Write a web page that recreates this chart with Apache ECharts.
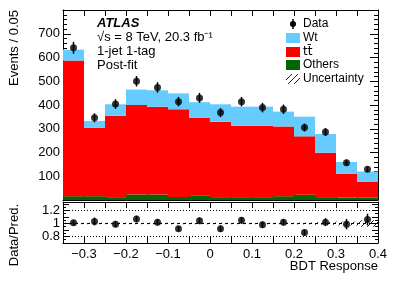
<!DOCTYPE html>
<html><head><meta charset="utf-8">
<script src="https://cdn.jsdelivr.net/npm/echarts@6/dist/echarts.min.js"></script>
<style>html,body{margin:0;padding:0;background:#fff}#c{width:399px;height:286px}</style>
</head><body><div id="c"></div>
<script>
// ---- data ----
const binEdges = [-0.35,-0.3,-0.25,-0.2,-0.15,-0.1,-0.05,0,0.05,0.1,0.15,0.2,0.25,0.3,0.35,0.4];
const others = [16,16,12,23,23,13,20,12,12,12,16,22,12,10,10];
const ttbar  = [571,288,343,377,370,369,326,318,300,300,294,246,187,101,66];
const wt     = [46,29,48,65,69,67,66,73,81,81,62,83,79,49,44];
const dataVals = [641,346,404,500,474,414,430,368,414,389,382,305,286,157,129];
const dataErr  = [25,19,20,22,22,20,21,19,20,20,20,17,17,13,11];
const ratioVals = [1.01,1.03,0.99,1.07,1.02,0.92,1.04,0.92,1.05,0.98,1.02,0.86,1.02,0.99,1.06];
const ratioErr  = [0.04,0.06,0.05,0.05,0.05,0.04,0.05,0.05,0.05,0.05,0.05,0.05,0.06,0.08,0.09];
const uncRel    = [0.012,0.012,0.012,0.012,0.012,0.012,0.012,0.012,0.012,0.012,0.012,0.015,0.02,0.03,0.05];
const xTickLabels = {'-30':'\u22120.3','-20':'\u22120.2','-10':'\u22120.1','0':'0','10':'0.1','20':'0.2','30':'0.3','40':'0.4'};
const yTickLabels = ['100','200','300','400','500','600','700'];
const ratioTickLabels = {'8':'0.8','10':'1','12':'1.2'};

// ---- colours ----
const cWt = '#66ccff', cTT = '#ff0000', cOth = '#006600';

// hatch pattern
const pc = document.createElement('canvas'); pc.width = 6; pc.height = 6;
const g = pc.getContext('2d'); g.strokeStyle = '#222'; g.lineWidth = 1;
g.beginPath(); g.moveTo(0,6); g.lineTo(6,0); g.moveTo(-1,1); g.lineTo(1,-1); g.moveTo(5,7); g.lineTo(7,5); g.stroke();
const hatch = {image: pc, repeat: 'repeat'};

const nb = dataVals.length;
const centers = [];
for (let i = 0; i < nb; i++) centers.push((binEdges[i] + binEdges[i+1]) / 2);

function stackRects(lower, vals) {
  const out = [];
  for (let i = 0; i < nb; i++) {
    let base = 0; lower.forEach(a => base += a[i]);
    out.push([binEdges[i], binEdges[i+1], base, base + vals[i]]);
  }
  return out;
}
function rectItem(fill) {
  return function (params, api) {
    const p0 = api.coord([api.value(0), api.value(2)]);
    const p1 = api.coord([api.value(1), api.value(3)]);
    return {type: 'rect', shape: {x: p0[0], y: p1[1], width: p1[0] - p0[0], height: p0[1] - p1[1]},
            style: {fill: fill}};
  };
}
function errItem(params, api) {
  const x = api.value(0), y = api.value(1), e = api.value(2);
  const a = api.coord([x, y - e]), b = api.coord([x, y + e]);
  return {type: 'line', shape: {x1: a[0], y1: a[1], x2: b[0], y2: b[1]}, style: {stroke: '#000', lineWidth: 1.5}};
}

const axLine = {show: true, onZero: false, lineStyle: {color: '#000', width: 1}};
function xAx(grid, pos, labels) {
  return {type: 'value', gridIndex: grid, position: pos, min: -0.35, max: 0.4, interval: 0.05,
    axisLine: axLine, splitLine: {show: false},
    axisTick: {show: true, inside: true, length: 6, lineStyle: {color: '#000'}},
    minorTick: {show: false},
    axisLabel: labels ? {show: true, fontSize: 13, color: '#000', margin: 5, fontFamily: 'Liberation Sans',
      formatter: v => { const k = String(Math.round(v * 100)); return xTickLabels[k] !== undefined ? xTickLabels[k] : ''; }}
      : {show: false}};
}
function yMain(pos, labels) {
  return {type: 'value', gridIndex: 0, position: pos, min: 0, max: 800, interval: 100,
    axisLine: axLine, splitLine: {show: false},
    axisTick: {show: true, inside: true, length: 8, lineStyle: {color: '#000'}},
    minorTick: {show: true, splitNumber: 5, length: 4, lineStyle: {color: '#000'}},
    axisLabel: labels ? {show: true, fontSize: 13, color: '#000', margin: 3, fontFamily: 'Liberation Sans',
      formatter: v => { const k = Math.round(v / 100); return (k >= 1 && k <= 7) ? yTickLabels[k-1] : ''; }}
      : {show: false}};
}
function yRatio(pos, labels) {
  return {type: 'value', gridIndex: 1, position: pos, min: 0.7, max: 1.33, interval: 0.1,
    axisLine: axLine, splitLine: {show: false},
    axisTick: {show: true, inside: true, length: 6, lineStyle: {color: '#000'}},
    minorTick: {show: true, splitNumber: 2, length: 3, lineStyle: {color: '#000'}},
    axisLabel: labels ? {show: true, fontSize: 13, color: '#000', margin: 3, fontFamily: 'Liberation Sans',
      formatter: v => { const k = String(Math.round(v * 10)); return ratioTickLabels[k] || ''; }}
      : {show: false}};
}

const ratioBand = [];
for (let i = 0; i < nb; i++) ratioBand.push([binEdges[i], binEdges[i+1], 1 - uncRel[i], 1 + uncRel[i]]);

const option = {
  animation: false,
  grid: [
    {left: 63, top: 10, width: 315, height: 190, containLabel: false},
    {left: 63, top: 202, width: 315, height: 41, containLabel: false}
  ],
  xAxis: [xAx(0, 'bottom', false), xAx(0, 'top', false), xAx(1, 'bottom', true), xAx(1, 'top', false)],
  yAxis: [yMain('left', true), yMain('right', false), yRatio('left', true), yRatio('right', false)],
  series: [
    {name: 'Others', type: 'custom', xAxisIndex: 0, yAxisIndex: 0, renderItem: rectItem(cOth),
     data: stackRects([], others), z: 1},
    {name: 'ttbar', type: 'custom', xAxisIndex: 0, yAxisIndex: 0, renderItem: rectItem(cTT),
     data: stackRects([others], ttbar), z: 1},
    {name: 'Wt', type: 'custom', xAxisIndex: 0, yAxisIndex: 0, renderItem: rectItem(cWt),
     data: stackRects([others, ttbar], wt), z: 1},
    {name: 'DataErr', type: 'custom', xAxisIndex: 0, yAxisIndex: 0, renderItem: errItem,
     data: centers.map((c, i) => [c, dataVals[i], dataErr[i]]), z: 3},
    {name: 'Data', type: 'scatter', xAxisIndex: 0, yAxisIndex: 0, symbol: 'circle', symbolSize: 7,
     itemStyle: {color: '#000'}, data: centers.map((c, i) => [c, dataVals[i]]), z: 4},
    {name: 'Unc', type: 'custom', xAxisIndex: 2, yAxisIndex: 2, renderItem: rectItem(hatch),
     data: ratioBand, z: 1,
     markLine: {silent: true, symbol: 'none', label: {show: false},
       data: [
         {yAxis: 1.2, lineStyle: {type: [1, 2], color: '#000', width: 1}},
         {yAxis: 0.8, lineStyle: {type: [1, 2], color: '#000', width: 1}},
         {yAxis: 1.0, lineStyle: {type: [3, 3], color: '#000', width: 1}}
       ]}},
    {name: 'RatioErr', type: 'custom', xAxisIndex: 2, yAxisIndex: 2, renderItem: errItem,
     data: centers.map((c, i) => [c, ratioVals[i], ratioErr[i]]), z: 3},
    {name: 'Ratio', type: 'scatter', xAxisIndex: 2, yAxisIndex: 2, symbol: 'circle', symbolSize: 7,
     itemStyle: {color: '#000'}, data: centers.map((c, i) => [c, ratioVals[i]]), z: 4}
  ],
  graphic: [
    {type: 'text', x: 14, y: 10, rotation: Math.PI / 2,
     style: {text: 'Events / 0.05', font: '13px "Liberation Sans"', fill: '#000', align: 'right', verticalAlign: 'middle'}},
    {type: 'text', x: 14, y: 204, rotation: Math.PI / 2,
     style: {text: 'Data/Pred.', font: '13px "Liberation Sans"', fill: '#000', align: 'right', verticalAlign: 'middle'}},
    {type: 'text', x: 378, y: 266,
     style: {text: 'BDT Response', font: '13px "Liberation Sans"', fill: '#000', align: 'right', verticalAlign: 'middle'}},
    {type: 'text', x: 97, y: 23,
     style: {text: 'ATLAS', font: 'italic bold 13px "Liberation Sans"', fill: '#000', align: 'left', verticalAlign: 'middle'}},
    {type: 'text', x: 97, y: 37,
     style: {text: '\u221As = 8 TeV, 20.3 fb\u207B\u00B9', font: '13px "Liberation Sans"', fill: '#000', align: 'left', verticalAlign: 'middle'}},
    {type: 'text', x: 97, y: 51,
     style: {text: '1-jet 1-tag', font: '13px "Liberation Sans"', fill: '#000', align: 'left', verticalAlign: 'middle'}},
    {type: 'text', x: 97, y: 65,
     style: {text: 'Post-fit', font: '13px "Liberation Sans"', fill: '#000', align: 'left', verticalAlign: 'middle'}},
    // legend
    {type: 'circle', shape: {cx: 293, cy: 24, r: 3}, style: {fill: '#000'}},
    {type: 'line', shape: {x1: 293, y1: 19, x2: 293, y2: 29}, style: {stroke: '#000', lineWidth: 1.5}},
    {type: 'rect', shape: {x: 286, y: 33, width: 14, height: 10}, style: {fill: cWt}},
    {type: 'rect', shape: {x: 286, y: 47, width: 14, height: 10}, style: {fill: cTT}},
    {type: 'rect', shape: {x: 286, y: 60, width: 14, height: 10}, style: {fill: cOth}},
    {type: 'rect', shape: {x: 286, y: 74, width: 14, height: 10}, style: {fill: hatch}},
    {type: 'text', x: 303, y: 24, style: {text: 'Data', font: '12px "Liberation Sans"', fill: '#000', verticalAlign: 'middle'}},
    {type: 'text', x: 303, y: 38, style: {text: 'Wt', font: '12px "Liberation Sans"', fill: '#000', verticalAlign: 'middle'}},
    {type: 'text', x: 303, y: 52, style: {text: 'tt\u0304', font: '12px "DejaVu Sans"', fill: '#000', verticalAlign: 'middle'}},
    {type: 'text', x: 303, y: 65, style: {text: 'Others', font: '12px "Liberation Sans"', fill: '#000', verticalAlign: 'middle'}},
    {type: 'text', x: 303, y: 79, style: {text: 'Uncertainty', font: '12px "Liberation Sans"', fill: '#000', verticalAlign: 'middle'}}
  ]
};
const chart = echarts.init(document.getElementById('c'), null, {renderer: 'canvas'});
chart.setOption(option);
</script>
</body></html>
